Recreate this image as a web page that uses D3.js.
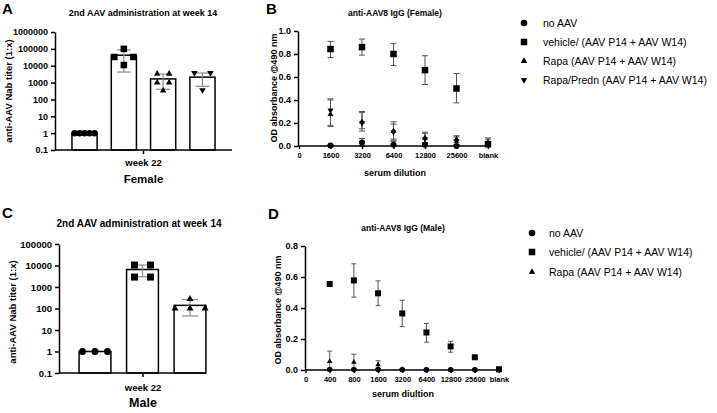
<!DOCTYPE html>
<html>
<head>
<meta charset="utf-8">
<script src="https://cdn.jsdelivr.net/npm/d3@7"></script>
<style>
  body { margin: 0; background: #fff; }
  svg { font-family: "Liberation Sans", Arial, sans-serif; }
  .axis path, .axis line { stroke: #000; stroke-width: 1.5px; }
  .axis text { font-weight: bold; fill: #000; }
</style>
</head>
<body>
<svg id="chart" width="717" height="413"></svg>
<script>
// ---------------- data ----------------
var groups = ["no AAV", "vehicle/ (AAV P14 + AAV W14)", "Rapa (AAV P14 + AAV W14)", "Rapa/Predn (AAV P14 + AAV W14)"];
var shapes = ["circle", "square", "up", "down"];

// A - female Nab titer at week 22 (log scale)
var femaleTiterTicks = [0.1, 1, 10, 100, 1000, 10000, 100000, 1000000];
var femaleTiterMean = [1, 42000, 1650, 2100];
var femaleTiterLow = [1, 4200, 400, 600];
var femaleTiterHigh = [1, 85000, 3200, 3700];
var femaleTiterPoints = [
  [1, 1, 1, 1, 1],
  [100000, 33000, 33000, 11000],
  [3300, 3300, 1000, 1000, 330],
  [3700, 3700, 360]
];

// C - male Nab titer at week 22
var maleTiterTicks = [0.1, 1, 10, 100, 1000, 10000, 100000];
var maleTiterMean = [1, 6500, 140];
var maleTiterLow = [1, 3000, 45];
var maleTiterHigh = [1, 10500, 260];
var maleTiterPoints = [
  [1, 1, 1],
  [10500, 10500, 2900, 2900],
  [275, 100, 100, 100]
];

// B - anti-AAV8 IgG female, OD by serum dilution
var femaleDilutions = ["0", "1600", "3200", "6400", "12800", "25600", "blank"];
var femaleOdMean = [
  [0.005, 0.03, 0.01, 0.01, 0.0, 0.02],
  [0.843, 0.86, 0.80, 0.66, 0.50, 0.015],
  [0.275, 0.21, 0.13, 0.07, 0.06, 0.03],
  [0.31, 0.20, 0.12, 0.06, 0.04, 0.01]
];
var femaleOdLow = [
  [0, 0, 0, 0, 0, 0],
  [0.77, 0.79, 0.70, 0.535, 0.375, 0],
  [0.18, 0.13, 0.05, 0.02, 0.03, 0],
  [0.17, 0.15, 0.06, 0.01, 0.01, 0]
];
var femaleOdHigh = [
  [0.01, 0.065, 0.04, 0.03, 0.01, 0.07],
  [0.91, 0.93, 0.89, 0.785, 0.63, 0.04],
  [0.41, 0.30, 0.21, 0.12, 0.09, 0.06],
  [0.40, 0.29, 0.19, 0.11, 0.08, 0.04]
];

// D - anti-AAV8 IgG male
var maleDilutions = ["0", "400", "800", "1600", "3200", "6400", "12800", "25600", "blank"];
var maleOdMean = [
  [0.003, 0.003, 0.003, 0.002, 0.002, 0.002, 0.002, 0.003],
  [0.555, 0.578, 0.495, 0.365, 0.242, 0.152, 0.082, 0.005],
  [0.055, 0.05, 0.035, 0.004, 0.002, 0.002, 0.002, 0.002]
];
var maleOdLow = [
  [0, 0, 0, 0, 0, 0, 0, 0],
  [0.54, 0.47, 0.415, 0.28, 0.18, 0.115, 0.075, 0],
  [0, 0, 0.01, 0, 0, 0, 0, 0]
];
var maleOdHigh = [
  [0.01, 0.01, 0.01, 0.01, 0.01, 0.01, 0.01, 0.01],
  [0.57, 0.685, 0.575, 0.45, 0.30, 0.185, 0.09, 0.012],
  [0.122, 0.102, 0.06, 0.01, 0.01, 0.01, 0.01, 0.01]
];

// ---------------- helpers ----------------
var svg = d3.select("#chart");
svg.append("rect").attr("width", 717).attr("height", 413).attr("fill", "#fff");

function symPath(shape, w) {
  if (shape === "circle") return d3.symbol(d3.symbolCircle, Math.PI * w * w / 4)();
  if (shape === "square") return d3.symbol(d3.symbolSquare, w * w)();
  return d3.symbol(d3.symbolTriangle, w * w * Math.sqrt(3) / 4)();
}
function drawSym(g, shape, x, y, w) {
  g.append("path")
    .attr("d", symPath(shape, w))
    .attr("transform", "translate(" + x + "," + y + ")" + (shape === "down" ? " rotate(180)" : ""))
    .attr("fill", "#000");
}
function label(txt, x, y, size, opts) {
  opts = opts || {};
  var t = svg.append("text")
    .attr("x", x).attr("y", y)
    .attr("font-size", size)
    .attr("font-weight", opts.normal ? "normal" : "bold")
    .attr("text-anchor", opts.anchor || "middle")
    .text(txt);
  if (opts.rotate) t.attr("transform", "rotate(-90," + x + "," + y + ")");
  return t;
}

// ---------------- bar panels (A, C) ----------------
function barPanel(p) {
  var y = d3.scaleLog().domain([p.ticks[0], p.ticks[p.ticks.length - 1]]).range([p.bottom, p.top]);
  var x = d3.scaleBand().domain(d3.range(p.mean.length)).range(p.band)
    .paddingInner(p.padIn).paddingOuter(p.padOut);
  var g = svg.append("g");

  // bars
  g.selectAll("rect.bar").data(p.mean).enter().append("rect")
    .attr("x", (d, i) => x(i))
    .attr("y", d => y(d))
    .attr("width", x.bandwidth())
    .attr("height", d => p.bottom - y(d))
    .attr("fill", "#fff").attr("stroke", "#000").attr("stroke-width", 1.5);

  // error bars
  p.mean.forEach(function(m, i) {
    var cx = x(i) + x.bandwidth() / 2;
    if (p.low[i] === p.high[i]) return;
    g.append("line").attr("x1", cx).attr("x2", cx)
      .attr("y1", y(p.low[i])).attr("y2", y(p.high[i]))
      .attr("stroke", "#8a8a8a").attr("stroke-width", 1.2);
    [p.low[i], p.high[i]].forEach(function(v) {
      g.append("line").attr("x1", cx - p.cap / 2).attr("x2", cx + p.cap / 2)
        .attr("y1", y(v)).attr("y2", y(v))
        .attr("stroke", "#8a8a8a").attr("stroke-width", 1.2);
    });
  });

  // points, same values spread sideways
  p.points.forEach(function(pts, i) {
    var cx = x(i) + x.bandwidth() / 2;
    var rows = d3.group(pts, v => v);
    rows.forEach(function(vals, v) {
      var n = vals.length;
      vals.forEach(function(_, k) {
        drawSym(g, shapes[i], cx + (k - (n - 1) / 2) * p.spread[i], y(v), p.mark);
      });
    });
  });

  // y axis
  svg.append("g").attr("class", "axis")
    .attr("transform", "translate(" + p.left + ",0)")
    .call(d3.axisLeft(y).tickValues(p.ticks).tickFormat(d3.format("")).tickSize(4).tickSizeOuter(0))
    .call(a => a.selectAll("text").attr("font-size", p.tickFont));

  // x axis
  svg.append("line").attr("x1", p.left).attr("x2", p.right)
    .attr("y1", p.bottom).attr("y2", p.bottom)
    .attr("stroke", "#000").attr("stroke-width", 1.5);
  svg.append("line").attr("x1", p.tickX).attr("x2", p.tickX)
    .attr("y1", p.bottom).attr("y2", p.bottom + 4)
    .attr("stroke", "#000").attr("stroke-width", 1.5);
}

// ---------------- dilution panels (B, D) ----------------
function odPanel(p) {
  var x = d3.scaleLinear().domain([0, p.labels.length - 1]).range([p.x0, p.x1]);
  var y = d3.scaleLinear().domain([0, p.yMax]).range([p.bottom, p.top]);
  var g = svg.append("g");

  p.mean.forEach(function(series, s) {
    series.forEach(function(v, i) {
      var cx = x(i + 1);
      var lo = p.low[s][i], hi = p.high[s][i];
      g.append("line").attr("x1", cx).attr("x2", cx).attr("y1", y(lo)).attr("y2", y(hi))
        .attr("stroke", "#555").attr("stroke-width", 1);
      [lo, hi].forEach(function(e) {
        g.append("line").attr("x1", cx - p.cap / 2).attr("x2", cx + p.cap / 2)
          .attr("y1", y(e)).attr("y2", y(e))
          .attr("stroke", "#555").attr("stroke-width", 1);
      });
    });
  });

  svg.append("g").attr("class", "axis")
    .attr("transform", "translate(0," + p.bottom + ")")
    .call(d3.axisBottom(x).tickValues(d3.range(p.labels.length))
      .tickFormat((d, i) => p.labels[i]).tickSize(3).tickSizeOuter(0))
    .call(a => a.select(".domain").attr("d", "M" + (p.yAxisX) + ",0H" + p.x1))
    .call(a => a.selectAll("text").attr("font-size", p.xTickFont).attr("dy", "0.85em"));

  svg.append("g").attr("class", "axis")
    .attr("transform", "translate(" + p.yAxisX + ",0)")
    .call(d3.axisLeft(y).ticks(p.yMax * 5).tickFormat(d3.format(".1f")).tickSize(4).tickSizeOuter(0))
    .call(a => a.selectAll("text").attr("font-size", p.yTickFont));

  var m = svg.append("g");
  p.mean.forEach(function(series, s) {
    series.forEach(function(v, i) {
      drawSym(m, shapes[s], x(i + 1), y(v), shapes[s] === "square" ? p.mark + 0.5 : p.mark);
    });
  });
}

function legend(x, tx, ys, n, font) {
  for (var i = 0; i < n; i++) {
    drawSym(svg, shapes[i], x, ys[i], 6.5);
    label(groups[i], tx, ys[i] + 3.6, font, { anchor: "start", normal: true });
  }
}

// ---------------- panel A ----------------
barPanel({
  ticks: femaleTiterTicks, mean: femaleTiterMean, low: femaleTiterLow, high: femaleTiterHigh,
  points: femaleTiterPoints, top: 32, bottom: 150, left: 55, right: 232, tickX: 143.5,
  band: [64.9, 222.1], padIn: 0.36, padOut: 0.18, cap: 14, mark: 6.5,
  spread: [5, 19, 12, 16], tickFont: 9
});
label("A", 2, 14, 15, { anchor: "start" });
label("2nd AAV administration at week 14", 143, 16, 9);
label("anti-AAV Nab titer (1:x)", 12, 91, 9.5, { rotate: true });
label("week 22", 143.5, 166, 9.5);
label("Female", 143.5, 183, 11.5);

// ---------------- panel C ----------------
barPanel({
  ticks: maleTiterTicks, mean: maleTiterMean, low: maleTiterLow, high: maleTiterHigh,
  points: maleTiterPoints, top: 244, bottom: 373, left: 59, right: 206, tickX: 143,
  band: [71, 214], padIn: 0.33, padOut: 0.17, cap: 16, mark: 7,
  spread: [12.5, 16, 15], tickFont: 9.5
});
label("C", 2, 218, 15, { anchor: "start" });
label("2nd AAV administration at week 14", 139, 227, 10);
label("anti-AAV Nab titer (1:x)", 16, 312, 9.5, { rotate: true });
label("week 22", 143, 391, 9.5);
label("Male", 143, 407, 12.5);

// ---------------- panel B ----------------
odPanel({
  labels: femaleDilutions, mean: femaleOdMean, low: femaleOdLow, high: femaleOdHigh,
  x0: 299, x1: 488, yAxisX: 298, top: 31, bottom: 146, yMax: 1.0,
  cap: 6, mark: 6, xTickFont: 7.5, yTickFont: 9
});
label("B", 266, 14, 15, { anchor: "start" });
label("anti-AAV8 IgG (Female)", 395, 16, 8.5);
label("OD absorbance @490 nm", 277, 88, 9, { rotate: true });
label("serum dilution", 395, 176, 9);
legend(524, 543, [23, 42, 61, 80], 4, 10.5);

// ---------------- panel D ----------------
odPanel({
  labels: maleDilutions, mean: maleOdMean, low: maleOdLow, high: maleOdHigh,
  x0: 305.5, x1: 499, yAxisX: 305, top: 246, bottom: 370, yMax: 0.8,
  cap: 5, mark: 5.5, xTickFont: 7.5, yTickFont: 9
});
label("D", 268, 219, 15, { anchor: "start" });
label("anti-AAV8 IgG (Male)", 403, 231, 8.5);
label("OD absorbance @490 nm", 281, 310, 9, { rotate: true });
label("serum diultion", 403, 397, 9);
legend(532, 549, [233, 252, 272], 3, 10.5);
</script>
</body>
</html>
